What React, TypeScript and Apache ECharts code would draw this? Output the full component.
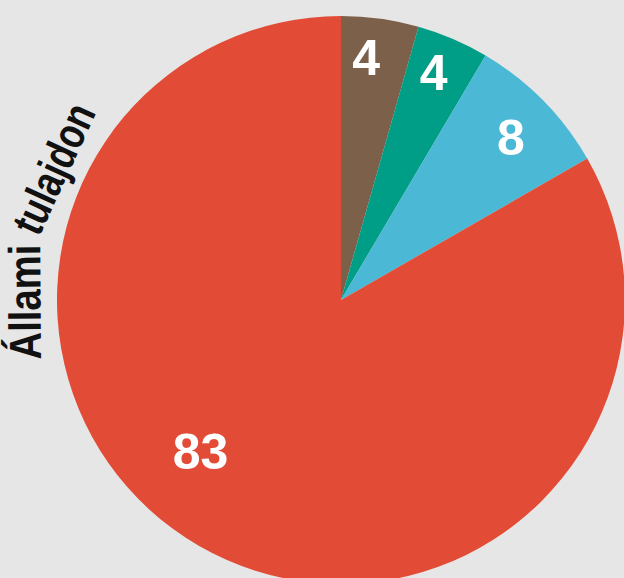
import React, { useEffect, useRef } from "react";
import * as echarts from "echarts";

const categories = ["Magán", "Vegyes", "Külföldi", "Állami tulajdon"];
const values = [4.4, 4.1, 8.2, 83.3];
const colors = ["#7d604a", "#009e86", "#4bb8d5", "#e24c36"];
const curvedWords = ["Állami", "tulajdon"];

// layout tweaks (style only): each word's start/end angle on the rim, degrees (math convention)
const curvedWordStart = [191.4, 168.6];
const curvedWordEnd = [169.4, 142.2];
const labelRadialFactor = [1.68, 1.69, 1.62, 1.43];
const labelAngleShift = [-2, -1, 1, 12.6];

const W = 624;
const H = 578;
const CX = 341;
const CY = 300;
const R = 284;

function measure(text: string, font: string): number {
  const c = document.createElement("canvas");
  const ctx = c.getContext("2d");
  if (!ctx) return text.length * 20;
  ctx.font = font;
  return ctx.measureText(text).width;
}

export default function App() {
  const ref = useRef<HTMLDivElement>(null);
  useEffect(() => {
    document.body.style.margin = "0";
    if (!ref.current) return;
    const chart = echarts.init(ref.current, undefined, { renderer: "svg" });

    const fs = 45;
    const fontFamily = "'Liberation Sans', Arial, sans-serif";
    const font = `bold ${fs}px ${fontFamily}`;
    const baseR = 299;
    const midR = baseR + fs * 0.38;
    const graphics = curvedWords.map((w, i) => {
      const a0 = (curvedWordStart[i] * Math.PI) / 180;
      const a1 = (curvedWordEnd[i] * Math.PI) / 180;
      const mid = (a0 + a1) / 2;
      const target = (a0 - a1) * baseR;
      const mw = measure(w, font);
      const sx = mw > 0 ? target / mw : 0.85;
      return {
        type: "text",
        x: CX + midR * Math.cos(mid),
        y: CY - midR * Math.sin(mid),
        rotation: mid - Math.PI / 2,
        scaleX: sx,
        style: {
          text: w,
          fontSize: fs,
          fontWeight: "bold",
          fontFamily,
          fill: "#111111",
          align: "center",
          verticalAlign: "middle",
        },
      };
    });

    const data = categories.map((c, i) => ({
      name: c,
      value: values[i],
      itemStyle: { color: colors[i] },
    }));

    chart.setOption({
      animation: false,
      backgroundColor: "#e6e6e6",
      graphic: graphics,
      series: [
        {
          type: "pie",
          center: [CX, CY],
          radius: [0, R],
          startAngle: 90,
          clockwise: true,
          avoidLabelOverlap: false,
          data,
          label: {
            show: true,
            position: "inside",
            color: "#ffffff",
            fontSize: 50,
            fontWeight: "bold",
            fontFamily,
            formatter: (p: any) => String(Math.round(p.value)),
          },
          labelLine: { show: false },
          emphasis: { disabled: true },
          labelLayout: (p: any) => {
            const r = p.labelRect;
            const lx = r.x + r.width / 2;
            const ly = r.y + r.height / 2;
            const vx = lx - CX;
            const vy = ly - CY;
            const d = Math.sqrt(vx * vx + vy * vy);
            const ang = Math.atan2(vx, -vy) + (labelAngleShift[p.dataIndex] * Math.PI) / 180;
            const nd = d * labelRadialFactor[p.dataIndex];
            const tx = CX + nd * Math.sin(ang);
            const ty = CY - nd * Math.cos(ang);
            return { dx: tx - lx, dy: ty - ly };
          },
        },
      ],
    });

    return () => chart.dispose();
  }, []);
  return <div ref={ref} style={{ width: W, height: H, background: "#e6e6e6" }} />;
}
